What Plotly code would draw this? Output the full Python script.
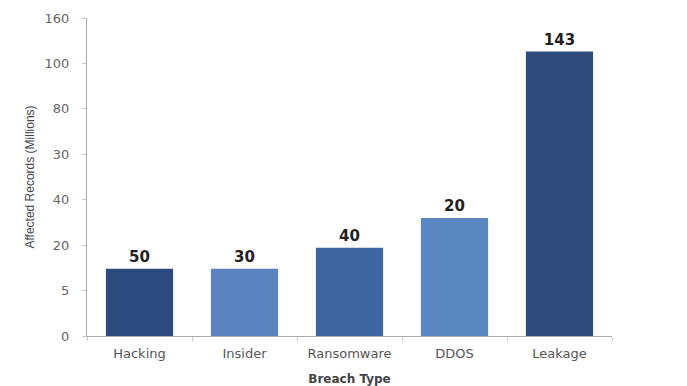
import plotly.graph_objects as go

categories = ["Hacking", "Insider", "Ransomware", "DDOS", "Leakage"]
# bar heights in axis position units (tick index)
bar_heights = [1.48, 1.48, 1.94, 2.60, 6.26]
bar_labels = ["50", "30", "40", "20", "143"]
bar_colors = ["#2c4a7e", "#5b83bf", "#3f65a1", "#5b87c1", "#2e4a7c"]
tick_positions = [0, 1, 2, 3, 4, 5, 6, 7]
tick_labels = ["0", "5", "20", "40", "30", "80", "100", "160"]

fig = go.Figure(go.Bar(
    x=categories, y=bar_heights, text=bar_labels, textposition="outside",
    marker=dict(color=bar_colors, line=dict(width=0)),
    textfont=dict(family="DejaVu Sans", size=15, color="#222222", weight="bold"),
    cliponaxis=False, width=0.64,
))

fig.update_layout(
    width=687, height=386,
    margin=dict(l=87, r=75, t=18, b=50),
    plot_bgcolor="white", paper_bgcolor="white",
    showlegend=False,
    font=dict(family="DejaVu Sans", color="#555555"),
    xaxis=dict(
        title=dict(text="<b>Breach Type</b>", font=dict(family="DejaVu Sans", size=12, color="#444444"), standoff=16),
        automargin=False,
        showline=True, linecolor="#aaaaaa", linewidth=1,
        ticks="outside", tickson="boundaries", ticklen=4, tickcolor="#cccccc",
        ticklabelstandoff=5,
        tickfont=dict(family="DejaVu Sans", size=13, color="#555555"), showgrid=False,
        range=[-0.5, 4.5],
    ),
    yaxis=dict(
        title=dict(text="Affected Records (Millions)", font=dict(family="Liberation Sans", size=12, color="#444444"), standoff=7),
        automargin=False,
        range=[0, 7], tickvals=tick_positions, ticktext=tick_labels,
        showline=True, linecolor="#aaaaaa", linewidth=1,
        ticks="outside", ticklen=4, tickcolor="#cccccc",
        ticklabelstandoff=10,
        tickfont=dict(family="DejaVu Sans", size=13, color="#666666"),
        showgrid=False, zeroline=False,
    ),
)

fig.write_html("out.html")
